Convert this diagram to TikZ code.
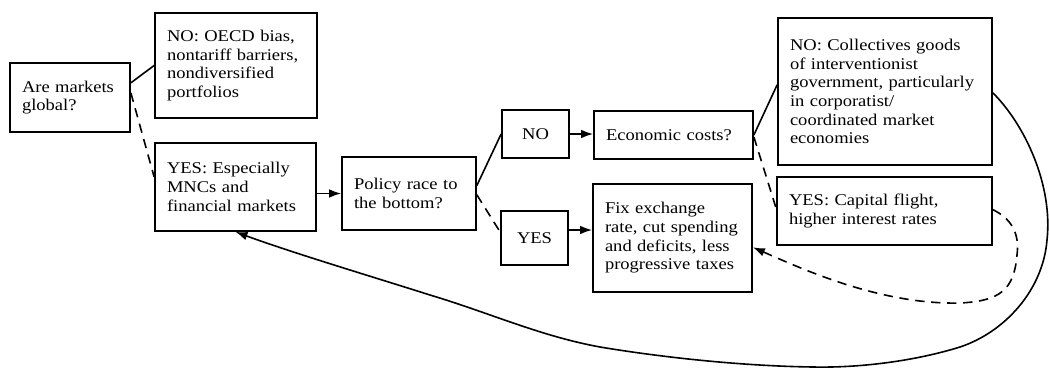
\documentclass[tikz,border=0pt]{standalone}
\usepackage{fontspec}
\setmainfont[FakeStretch=1.13]{Liberation Serif}
\usetikzlibrary{arrows.meta, positioning}
\tikzstyle{box} = [rectangle, draw, line width=1.3pt, align=left, inner xsep=9pt, inner ysep=3pt, font=\fontsize{12.3}{14}\selectfont]
\tikzstyle{answer} = [box, align=center]
\tikzstyle{arrow} = [line width=1.2pt, -{Latex[length=9pt,width=6.5pt]}]
\tikzstyle{solidline} = [line width=1.2pt]
\tikzstyle{dashline} = [line width=1.2pt, dash pattern=on 7pt off 5pt]

\begin{document}
\begin{tikzpicture}[x=0.75pt, y=-0.75pt]
\useasboundingbox (0,0) rectangle (1049,368);

% First question
\node (q1) [box, text width=72pt, minimum height=51.75pt] at (70,97.5) {Are markets\\global?};
\node (no1) [box, text width=103.5pt, minimum height=78.75pt] at (236,65.5) {NO: OECD bias,\\nontariff barriers,\\nondiversified\\portfolios};
\node (yes1) [box, text width=102.75pt, minimum height=66pt] at (235.5,187) {YES: Especially\\MNCs and\\financial markets};

% Second question
\node (policy) [box, text width=82.5pt, minimum height=54.75pt] at (409,193.5) {Policy race to\\the bottom?};
\node (no2) [answer, minimum width=50.25pt, minimum height=36pt] at (535.5,134) {NO};
\node (yes2) [answer, minimum width=50.25pt, minimum height=40.5pt] at (534.5,238) {YES};
\node (econ) [box, text width=101.25pt, minimum height=36pt] at (673.5,135) {Economic costs?};
\node (fix) [box, text width=101.25pt, minimum height=81pt] at (672.5,238) {Fix exchange\\rate, cut spending\\and deficits, less\\progressive taxes};

% Third question
\node (coll) [box, text width=142.5pt, minimum height=110.25pt] at (885,91.5) {NO: Collectives goods\\of interventionist\\government, particularly\\in corporatist/\\coordinated market\\economies};
\node (flight) [box, text width=143.25pt, minimum height=51pt] at (884.5,211) {YES: Capital flight,\\higher interest rates};

% Branches
\draw [solidline] ([yshift=11pt]q1.east) -- (no1.west);
\draw [dashline] ([yshift=3.5pt]q1.east) -- ([yshift=7.5pt]yes1.west);
\draw [arrow] (yes1.east |- policy.west) -- (policy.west);
\draw [solidline] ([yshift=6pt]policy.east) -- (no2.west);
\draw [dashline] ([yshift=-1pt]policy.east) -- ([yshift=4.5pt]yes2.west);
\draw [arrow] (no2.east) -- (econ.west |- no2.east);
\draw [arrow] ([yshift=6pt]yes2.east) -- ([yshift=6pt]fix.west);
\draw [solidline] (econ.east) -- ([yshift=5pt]coll.west);
\draw [dashline] ([yshift=-1.5pt]econ.east) -- ([yshift=2pt]flight.west);

% Feedback loops
\draw [dashline, -{Latex[length=9pt,width=6.5pt]}] ([yshift=1pt]flight.east) .. controls (1010,218) and (1020,232) .. (1017,255)
  .. controls (1014,290) and (1000,301) .. (960,303)
  .. controls (880,305) and (800,268) .. ([yshift=-7pt]fix.east);
\draw [arrow] ([yshift=-1pt]coll.east) .. controls (1025,125) and (1053,185) .. (1047,240)
  .. controls (1043,290) and (1005,332) .. (960,347)
  .. controls (915,361) and (860,368) .. (813,367)
  .. controls (740,366) and (660,357) .. (600,347)
  .. controls (540,336) and (490,313) .. (430,295)
  .. controls (370,276) and (290,252) .. (yes1.south);

\end{tikzpicture}
\end{document}
